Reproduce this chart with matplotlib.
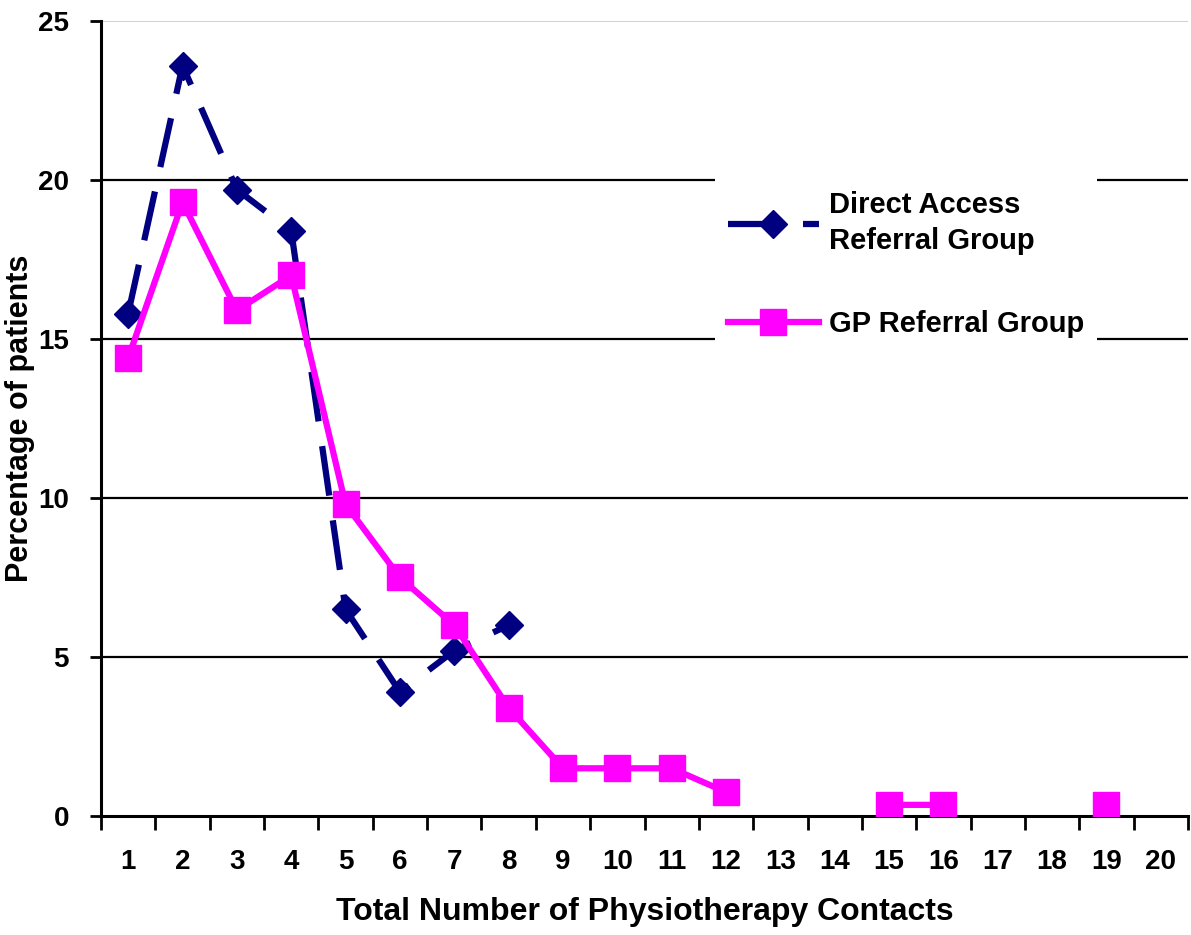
import matplotlib.pyplot as plt
import numpy as np

contacts = list(range(1, 21))
direct_access = [15.8, 23.6, 19.7, 18.4, 6.5, 3.9, 5.2, 6.0] + [np.nan] * 12
gp_referral = [14.4, 19.3, 15.9, 17.0, 9.8, 7.5, 6.0, 3.4, 1.5, 1.5, 1.5, 0.75,
               np.nan, np.nan, 0.35, 0.35, np.nan, np.nan, 0.35, np.nan]
y_ticks = [0, 5, 10, 15, 20, 25]

plt.rcParams['font.family'] = ['Liberation Sans', 'DejaVu Sans']
plt.rcParams['font.weight'] = 'bold'

fig = plt.figure(figsize=(11.91, 9.35), dpi=100)
ax = fig.add_axes([0.0848, 0.1273, 0.9127, 0.8502])

navy = '#000080'
magenta = '#FF00FF'

ax.plot(contacts, direct_access, color=navy, lw=4.5, dashes=(8, 4),
        dash_capstyle='butt', marker='D', markersize=14, zorder=3,
        label='Direct Access\nReferral Group')
ax.plot(contacts, gp_referral, color=magenta, lw=4.5, marker='s',
        markersize=19, zorder=4, label='GP Referral Group')

ax.set_xlim(0.5, 20.5)
ax.set_ylim(0, 25)

# gridlines
for y in y_ticks[1:-1]:
    ax.axhline(y, color='black', lw=1.6, zorder=1)
ax.axhline(25, color='#c8c8c8', lw=1.2, zorder=1)

ax.spines['top'].set_visible(False)
ax.spines['right'].set_visible(False)
ax.spines['left'].set_linewidth(2.2)
ax.spines['bottom'].set_linewidth(2.2)

ax.set_yticks(y_ticks)
ax.set_yticklabels([str(v) for v in y_ticks], fontsize=20, fontweight='bold')
ax.tick_params(axis='y', length=8, width=2, pad=15)

ax.set_xticks(contacts)
ax.set_xticklabels([str(c) for c in contacts], fontsize=20, fontweight='bold')
ax.set_xticks(np.arange(0.5, 21, 1), minor=True)
ax.tick_params(axis='x', which='major', length=0, pad=24)
ax.tick_params(axis='x', which='minor', length=10, width=2)

ax.set_xlabel('Total Number of Physiotherapy Contacts', fontsize=23,
              fontweight='bold')
ax.xaxis.set_label_coords(0.5, -0.102)
ax.set_ylabel('Percentage of patients', fontsize=22, fontweight='bold')
ax.yaxis.set_label_coords(-0.061, 0.5)

leg = ax.legend(loc='upper left', bbox_to_anchor=(0.565, 0.8025), frameon=True,
                facecolor='white', edgecolor='none', fancybox=False,
                fontsize=21, handlelength=3.1, handletextpad=0.35,
                labelspacing=1.9, borderpad=0.45, borderaxespad=0,
                framealpha=1)
for t in leg.get_texts():
    t.set_fontweight('bold')
    t.set_linespacing(1.35)
leg.set_zorder(5)

fig.savefig('out.png', dpi=100)
